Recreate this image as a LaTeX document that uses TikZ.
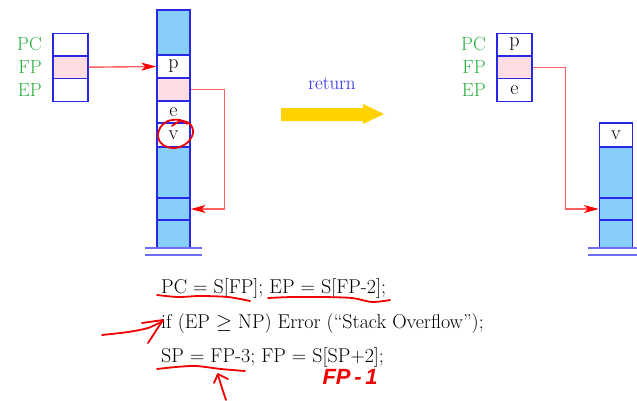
\documentclass[tikz,border=0pt]{standalone}
\usepackage{fontspec}
\newfontfamily\handfont{Liberation Sans}
\usetikzlibrary{arrows.meta}

\definecolor{stackblue}{RGB}{135,206,250}
\definecolor{edgeblue}{RGB}{40,40,235}
\definecolor{baseblue}{RGB}{110,110,245}
\definecolor{rowpink}{RGB}{255,221,226}
\definecolor{labgreen}{RGB}{40,175,60}
\definecolor{linkred}{RGB}{255,95,95}
\definecolor{penred}{RGB}{240,0,0}
\definecolor{arrowgold}{RGB}{255,210,0}
\definecolor{retblue}{RGB}{40,40,240}

\begin{document}
\begin{tikzpicture}[x=1pt,y=-1pt,
  cell/.style={draw=edgeblue, line width=1.3pt, minimum width=33pt, inner sep=0pt,
    font=\fontsize{20}{20}\selectfont},
  regcell/.style={cell, minimum width=35pt, minimum height=22.7pt},
  full/.style={fill=stackblue},
  empty/.style={fill=white},
  marked/.style={fill=rowpink},
  reglabel/.style={anchor=east, text=labgreen, inner sep=0pt,
    font=\fontsize{19}{19}\selectfont},
  link/.style={draw=linkred, line width=1.4pt,
    -{Stealth[length=15pt,width=8pt,inset=4pt,color=red]}},
  ground/.style={draw=baseblue, line width=1.8pt},
  pen/.style={draw=penred, line width=1.8pt, line cap=round, line join=round},
  code/.style={anchor=base west, inner sep=0pt, font=\fontsize{20}{20}\selectfont}]
\useasboundingbox (0,0) rectangle (637,400);

% ---- registers before return
\node[regcell, empty]  (lpc) at (70.5,44.5) {};
\node[regcell, marked] (lfp) at (70.5,67.2) {};
\node[regcell, empty]  (lep) at (70.5,89.8) {};
\node[reglabel] (lpcl) at (42,44.5) {PC};
\node[reglabel] (lfpl) at (42,67.2) {FP};
\node[reglabel] (lepl) at (42,89.8) {EP};

% ---- stack before return
\node[cell, full,   minimum height=45pt] (ls0) at (173.5,32.5) {};
\node[cell, empty,  minimum height=23pt] (ls1) at (173.5,66.5) {p};
\node[cell, marked, minimum height=23pt] (ls2) at (173.5,89.5) {};
\node[cell, empty,  minimum height=22pt] (ls3) at (173.5,112) {e};
\node[cell, empty,  minimum height=24pt] (ls4) at (173.5,135) {v};
\node[cell, full,   minimum height=51pt] (ls5) at (173.5,172.5) {};
\node[cell, full,   minimum height=22pt] (ls6) at (173.5,209) {};
\node[cell, full,   minimum height=28pt] (ls7) at (173.5,234) {};
\draw[ground] (145,248) -- (202,248);
\draw[ground] (145,255) -- (202,255);

\draw[link] (lfp.east) -- (ls1.west);
\draw[link] (ls2.east) -- ++(34,0) |- (ls6.east);

% ---- the return step
\node[text=retblue, font=\fontsize{19}{19}\selectfont, inner sep=0pt, anchor=base]
  (ret) at (332,89) {return};
\fill[arrowgold] (281,108) -- (363,108) -- (363,104) -- (384,114) -- (363,124)
  -- (363,121) -- (281,121) -- cycle;

% ---- registers after return
\node[regcell, empty]  (rpc) at (514.5,44.5) {p};
\node[regcell, marked] (rfp) at (514.5,67.2) {};
\node[regcell, empty]  (rep) at (514.5,89.8) {e};
\node[reglabel] (rpcl) at (486,44.5) {PC};
\node[reglabel] (rfpl) at (486,67.2) {FP};
\node[reglabel] (repl) at (486,89.8) {EP};

% ---- stack after return
\node[cell, empty, minimum height=24pt] (rs0) at (616,135) {v};
\node[cell, full,  minimum height=51pt] (rs1) at (616,172.5) {};
\node[cell, full,  minimum height=22pt] (rs2) at (616,209) {};
\node[cell, full,  minimum height=28pt] (rs3) at (616,234) {};
\draw[ground] (588,248) -- (637,248);
\draw[ground] (588,255) -- (637,255);

\draw[link] (rfp.east) -- ++(33,0) |- (rs2.west);

% ---- code
\node[code] (c1) at (161,293) {PC = S[FP]; EP = S[FP-2];};
\node[code] (c2) at (161,328) {if (EP $\geq$ NP) Error (“Stack Overflow”);};
\node[code] (c3) at (161,362) {SP = FP-3; FP = S[SP+2];};

% ---- pen annotations
\draw[pen] plot[smooth, tension=0.6] coordinates
  {(187,124) (180,120) (168,121) (160,128) (158,137) (163,145) (175,148) (187,143) (193,133) (190,124) (181,121) (172,126)};
\draw[pen] plot[smooth] coordinates {(157,295) (178,297) (200,296) (228,297) (250,301)};
\draw[pen] plot[smooth] coordinates {(268,298) (292,297) (322,297) (352,298) (372,302) (390,300)};
\draw[pen] plot[smooth] coordinates {(102,335) (128,332) (148,328) (163,321)};
\draw[pen] (142,323) -- (163,320) -- (148,343);
\draw[pen] plot[smooth] coordinates {(157,369) (176,367) (196,366) (221,369) (245,371)};
\draw[pen] plot[smooth] coordinates {(226,400) (222,388) (218,375)};
\draw[pen] (214,383) -- (218,374) -- (228,379);
\node[text=penred, font=\handfont\fontsize{22}{22}\selectfont\bfseries\itshape, inner sep=0pt]
  (fpm) at (350,377) {FP\,-\,1};
\end{tikzpicture}
\end{document}
